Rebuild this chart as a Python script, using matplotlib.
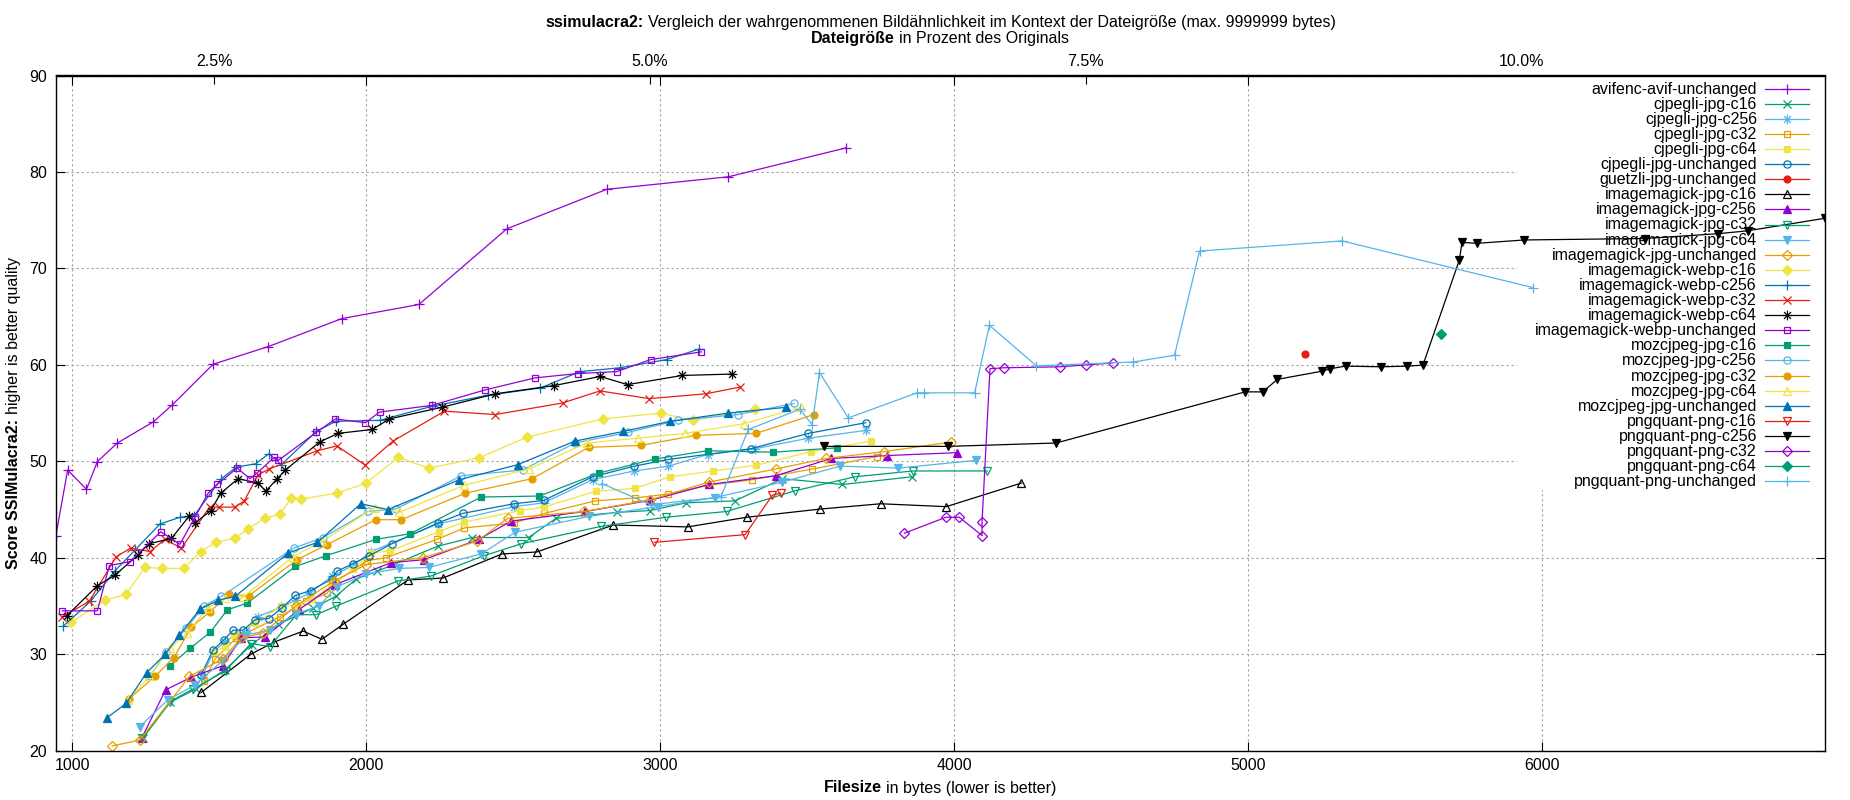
import matplotlib
matplotlib.use('Agg')
import matplotlib.pyplot as plt
from matplotlib.path import Path
from matplotlib.lines import Line2D
from matplotlib.patches import Rectangle
from matplotlib.transforms import IdentityTransform
from matplotlib.ticker import FixedLocator, FuncFormatter

plt.rcParams['font.family'] = ['Liberation Sans', 'DejaVu Sans']
FS = 11.5

# ---------------- data (filesize in bytes, score) ----------------
avif = [(944,42.3),(984,49.1),(1048,47.1),(1085,49.97),(1153,51.9),(1276,54.1),(1340,55.85),(1479,60.07),
        (1667,61.9),(1917,64.8),(2179,66.26),(2478,74.1),(2818,78.2),(3232,79.5),(3633,82.5)]
cjpegli_c16 = [(1240,21.3),(1332,25.0),(1420,26.4),(1520,28.4),(1610,31.0),(1700,33.1),(1820,34.8),(1896,36.0),
               (1966,37.8),(2037,38.6),(2243,41.2),(2360,42.1),(2552,42.1),(2646,44.1),(2852,44.7),(2965,44.9),
               (3089,45.7),(3254,45.9),(3416,48.2),(3620,47.6),(3858,48.4)]
cjpegli_c256 = [(1440,27.6),(1480,30.2),(1518,31.3),(1555,32.0),(1590,32.3),(1632,33.9),(1711,34.9),(1760,35.6),
                (1810,36.4),(1884,38.1),(1955,39.2),(2017,40.65),(2243,43.5),(2502,45.3),(2604,45.7),(2770,48.1),
                (2912,49.0),(3028,49.5),(3161,50.7),(3322,51.3),(3504,52.4),(3699,53.2)]
cjpegli_c32 = [(1448,27.2),(1485,29.5),(1558,31.7),(1706,33.9),(1796,35.5),(1866,36.3),(1896,37.5),(2002,39.7),
               (2066,40.0),(2240,41.9),(2334,43.1),(2502,43.6),(2606,44.6),(2779,45.9),(2915,46.2),(3025,46.6),
               (3161,47.5),(3314,48.1),(3518,49.2),(3738,50.5)]
cjpegli_c64 = [(1481,30.2),(1519,30.8),(1549,32.0),(1623,33.2),(1711,35.0),(1764,35.1),(1817,35.7),(1881,37.1),
               (1955,38.8),(2017,40.5),(2081,40.7),(2246,42.7),(2334,43.7),(2523,44.9),(2604,45.25),(2781,46.9),
               (2913,47.2),(3034,48.4),(3181,49.0),(3327,49.6),(3514,51.0),(3716,52.1)]
cjpegli_unch = [(1437,27.8),(1479,30.45),(1516,31.5),(1547,32.5),(1581,32.5),(1623,33.6),(1668,33.7),(1713,34.8),
                (1759,36.1),(1811,36.6),(1883,37.8),(1900,38.6),(1955,39.4),(2009,40.2),(2087,41.45),(2243,43.6),
                (2328,44.6),(2502,45.6),(2604,45.95),(2770,48.4),(2912,49.5),(3028,50.2),(3308,51.3),(3504,52.9),
                (3699,54.0)]
guetzli = [(5195,61.15)]
im_jpg_c16 = [(1439,26.05),(1607,30.0),(1686,31.25),(1785,32.4),(1849,31.55),(1921,33.1),(2142,37.7),(2261,37.9),
              (2462,40.4),(2580,40.6),(2841,43.4),(3093,43.2),(3294,44.2),(3544,45.05),(3750,45.6),(3973,45.3),
              (4229,47.75)]
im_jpg_c256 = [(1236,21.3),(1317,26.3),(1403,27.6),(1511,28.8),(1575,31.7),(1655,31.8),(1770,34.6),(1892,37.2),
               (2085,39.5),(2196,39.8),(2382,41.9),(2493,43.8),(2744,44.8),(2966,45.95),(3166,47.6),(3393,48.5),
               (3582,50.3),(3773,50.6),(4010,50.9)]
im_jpg_c32 = [(1236,21.3),(1332,25.1),(1411,26.4),(1522,28.3),(1607,31.1),(1672,30.8),(1762,34.1),(1830,34.1),
              (1898,35.0),(2108,37.6),(2219,38.1),(2399,40.2),(2527,41.45),(2798,43.25),(3019,44.2),(3226,44.8),
              (3459,46.95),(3663,48.4),(3860,49.0),(4113,49.0)]
im_jpg_c64 = [(1230,22.5),(1326,25.3),(1417,26.8),(1510,29.3),(1592,32.0),(1672,32.5),(1760,34.2),(1840,35.0),
              (1900,37.0),(2000,38.3),(2111,38.9),(2213,39.0),(2391,40.4),(2507,42.65),(2759,44.3),(2993,45.3),
              (3187,46.25),(3416,47.85),(3612,49.5),(3810,49.3),(4075,50.1)]
im_jpg_unch = [(1136,20.5),(1230,21.1),(1398,27.7),(1511,29.5),(1575,31.7),(1649,32.2),(1760,35.0),(1890,37.6),
               (2000,39.3),(2192,40.0),(2376,41.7),(2481,44.1),(2742,44.8),(2965,46.0),(3166,47.85),(3393,49.2),
               (3565,50.3),(3761,51.0),(3991,52.0)]
im_webp_c16 = [(995,33.3),(1111,35.6),(1182,36.2),(1247,39.0),(1304,38.9),(1381,38.9),(1436,40.65),(1490,41.6),
               (1553,42.05),(1598,43.0),(1655,44.1),(1706,44.5),(1745,46.2),(1779,46.1),(1901,46.7),(2000,47.75),
               (2108,50.4),(2213,49.3),(2383,50.35),(2546,52.5),(2804,54.4),(3002,55.0),(3110,54.25),(3323,55.4)]
im_webp_c256 = [(969,32.9),(1062,35.5),(1145,38.65),(1213,40.8),(1298,43.5),(1366,44.2),(1414,44.35),(1507,48.2),
                (1558,49.4),(1624,49.75),(1669,50.8),(1711,49.65),(1830,53.1),(1896,54.15),(2045,54.25),(2223,55.7),
                (2413,56.85),(2592,57.6),(2727,59.3),(2863,59.7),(3022,60.55),(3133,61.65)]
im_webp_c32 = [(964,33.85),(1058,35.5),(1149,40.1),(1198,41.0),(1264,40.65),(1315,41.9),(1371,41.0),(1468,45.3),
               (1498,45.25),(1552,45.25),(1584,45.85),(1632,48.6),(1669,49.2),(1834,51.1),(1900,51.6),(1997,49.6),
               (2091,52.1),(2266,55.2),(2439,54.85),(2668,56.05),(2795,57.3),(2963,56.5),(3155,57.0),(3272,57.7)]
im_webp_c64 = [(981,33.98),(1085,37.1),(1145,38.2),(1224,40.3),(1260,41.45),(1337,42.0),(1397,44.3),(1417,43.6),
               (1471,44.9),(1505,46.7),(1564,48.2),(1632,47.75),(1658,46.9),(1697,48.2),(1725,49.1),(1841,52.0),
               (1904,52.9),(2020,53.3),(2079,54.4),(2257,55.6),(2439,57.0),(2638,57.85),(2796,58.8),(2889,57.95),
               (3074,58.9),(3246,59.05)]
im_webp_unch = [(966,34.5),(1085,34.5),(1126,39.2),(1196,39.6),(1301,42.7),(1366,41.4),(1417,44.2),(1462,46.7),
                (1492,47.6),(1561,49.3),(1604,48.2),(1629,48.8),(1686,50.4),(1701,50.1),(1830,53.0),(1895,54.4),
                (1997,54.0),(2045,55.1),(2223,55.8),(2404,57.4),(2574,58.65),(2719,59.1),(2852,59.3),(2968,60.55),
                (3140,61.35)]
moz_c16 = [(1332,28.8),(1400,30.6),(1470,32.3),(1527,34.6),(1595,35.3),(1759,39.1),(1862,40.2),(2032,41.9),
           (2150,42.5),(2391,46.3),(2589,46.4),(2793,48.8),(2983,50.25),(3161,51.1),(3385,50.95),(3603,51.4)]
moz_c256 = [(1264,27.7),(1318,30.2),(1388,32.7),(1448,35.0),(1507,36.0),(1753,41.0),(1853,42.1),(2006,44.8),
            (2100,45.05),(2323,48.5),(2532,49.1),(2710,51.9),(2892,53.0),(3059,54.25),(3265,54.85),(3455,56.0)]
moz_c32 = [(1194,25.4),(1281,27.7),(1345,29.65),(1405,32.8),(1468,34.4),(1533,36.2),(1600,36.05),(1764,39.8),
           (1866,41.35),(2032,43.95),(2119,43.95),(2337,46.7),(2564,48.2),(2757,51.45),(2934,51.65),(3123,52.7),
           (3327,52.9),(3523,54.85)]
moz_c64 = [(1190,25.3),(1262,27.7),(1332,30.6),(1390,32.2),(1460,34.8),(1520,35.8),(1580,35.9),(1750,40.1),
           (1850,41.7),(2028,45.2),(2111,44.7),(2331,47.5),(2553,49.2),(2751,51.9),(2923,52.4),(3085,52.9),
           (3285,53.9),(3478,55.6)]
moz_unch = [(1117,23.4),(1183,24.9),(1253,28.1),(1316,30.0),(1364,32.0),(1434,34.65),(1496,35.6),(1554,36.0),
            (1735,40.5),(1834,41.6),(1981,45.6),(2074,45.0),(2317,48.1),(2515,49.65),(2710,52.1),(2875,53.1),
            (3034,54.15),(3231,55.0),(3429,55.6)]
png_c16 = [(2980,41.6),(3289,42.4),(3382,46.5),(3410,46.7)]
png_c256 = [(3557,51.55),(3980,51.55),(4347,51.9),(4990,57.2),(5050,57.2),(5100,58.5),(5253,59.35),(5280,59.6),
            (5332,59.87),(5453,59.8),(5541,59.87),(5595,59.97),(5719,70.87),(5728,72.7),(5779,72.6),(5940,72.95),
            (6350,73.1),(6600,73.6),(6700,73.9),(6963,75.2)]
png_c32 = [(3831,42.55),(3972,44.2),(4018,44.2),(4095,42.3),(4095,43.7),(4122,59.6),(4170,59.7),(4360,59.8),
           (4450,60.0),(4540,60.2)]
png_c64 = [(5657,63.2)]
png_unch = [(2801,47.7),(2968,45.5),(3206,46.3),(3300,53.3),(3475,55.4),(3517,53.8),(3542,59.2),(3640,54.5),
            (3874,57.1),(3897,57.1),(4070,57.1),(4120,64.1),(4280,59.9),(4610,60.3),(4750,61.0),(4835,71.8),
            (5320,72.85),(5971,68.0)]

series_names = ["avifenc-avif-unchanged", "cjpegli-jpg-c16", "cjpegli-jpg-c256", "cjpegli-jpg-c32",
                "cjpegli-jpg-c64", "cjpegli-jpg-unchanged", "guetzli-jpg-unchanged", "imagemagick-jpg-c16",
                "imagemagick-jpg-c256", "imagemagick-jpg-c32", "imagemagick-jpg-c64", "imagemagick-jpg-unchanged",
                "imagemagick-webp-c16", "imagemagick-webp-c256", "imagemagick-webp-c32", "imagemagick-webp-c64",
                "imagemagick-webp-unchanged", "mozcjpeg-jpg-c16", "mozcjpeg-jpg-c256", "mozcjpeg-jpg-c32",
                "mozcjpeg-jpg-c64", "mozcjpeg-jpg-unchanged", "pngquant-png-c16", "pngquant-png-c256",
                "pngquant-png-c32", "pngquant-png-c64", "pngquant-png-unchanged"]
series_data = [avif, cjpegli_c16, cjpegli_c256, cjpegli_c32, cjpegli_c64, cjpegli_unch, guetzli,
               im_jpg_c16, im_jpg_c256, im_jpg_c32, im_jpg_c64, im_jpg_unch,
               im_webp_c16, im_webp_c256, im_webp_c32, im_webp_c64, im_webp_unch,
               moz_c16, moz_c256, moz_c32, moz_c64, moz_unch,
               png_c16, png_c256, png_c32, png_c64, png_unch]
ORIGINAL_SIZE = 59300  # bytes, for the percent axis

# ---------------- styles ----------------
palette = ['#9400d3', '#009e73', '#56b4e9', '#e69f00', '#f0e442', '#0072b2', '#e51e10', '#000000']
star = Path([(-1, 0), (1, 0), (0, -1), (0, 1), (-0.72, -0.72), (0.72, 0.72), (-0.72, 0.72), (0.72, -0.72)],
            [Path.MOVETO, Path.LINETO] * 4)
# gnuplot point types 1..13: (marker, filled, size)
ptypes = [('+', False, 7.5), ('x', False, 5.5), (star, False, 7.0), ('s', False, 5.0), ('s', True, 5.0),
          ('o', False, 5.2), ('o', True, 5.0), ('^', False, 6.0), ('^', True, 6.0), ('v', False, 6.0),
          ('v', True, 6.0), ('D', False, 4.6), ('D', True, 4.6)]

W, H = 1850, 800
fig = plt.figure(figsize=(W / 100, H / 100), dpi=100)
L, R, T, B = 55.6, 1825.0, 75.5, 750.7
ax = fig.add_axes([L / W, 1 - B / H, (R - L) / W, (B - T) / H])

ax.set_axisbelow(True)
ax.grid(True, color='#a0a0a0', linestyle=(0, (2.0, 2.5)), linewidth=0.8)
# opaque key area (grid hidden behind it, data drawn over it)
ax.add_patch(Rectangle((0.8257, 0.386), 1 - 0.8257, 1 - 0.386, transform=ax.transAxes,
                       facecolor='white', edgecolor='none', zorder=1))

styles = []
for i, (name, data) in enumerate(zip(series_names, series_data)):
    color = palette[i % 8]
    m, filled, ms = ptypes[i % 13]
    styles.append((color, m, filled, ms))
    xs = [p[0] for p in data]
    ys = [p[1] for p in data]
    ax.plot(xs, ys, color=color, lw=0.9, marker=m, ms=ms,
            mfc=color if filled else 'none', mec=color, mew=0.9, zorder=2)

ax.set_xlim(943, 6963)
ax.set_ylim(20, 90)
ax.set_xticks([1000, 2000, 3000, 4000, 5000, 6000])
ax.set_yticks([20, 30, 40, 50, 60, 70, 80, 90])
ax.tick_params(axis='both', direction='in', length=6.5, width=0.8, labelsize=FS, top=True, right=True)
ax.tick_params(axis='x', pad=5)
ax.tick_params(axis='y', pad=6)
for sp in ax.spines.values():
    sp.set_linewidth(1.0)

sec = ax.secondary_xaxis('top', functions=(lambda b: b / ORIGINAL_SIZE * 100.0,
                                           lambda p: p * ORIGINAL_SIZE / 100.0))
sec.xaxis.set_major_locator(FixedLocator([2.5, 5.0, 7.5, 10.0]))
sec.xaxis.set_major_formatter(FuncFormatter(lambda v, pos: f"{v:.1f}%"))
sec.tick_params(direction='in', length=6.5, width=0.8, labelsize=FS, pad=5)
sec.spines['top'].set_linewidth(1.0)

# ---------------- key (legend) ----------------
ident = IdentityTransform()
row0, drow = 88.6, 15.1
for i, name in enumerate(series_names):
    color, m, filled, ms = styles[i]
    yc = H - (row0 + drow * i)
    fig.text(1757, yc - 5.0, name, transform=ident, ha='right', va='baseline', fontsize=FS, zorder=5)
    fig.add_artist(Line2D([1765, 1787, 1809], [yc, yc, yc], transform=ident, color=color, lw=0.9,
                          marker=m, ms=ms, markevery=[1], mfc=color if filled else 'none', mec=color, mew=0.9,
                          zorder=5))

# ---------------- mixed bold / normal labels ----------------
fig.canvas.draw()
renderer = fig.canvas.get_renderer()


def text_width(s, weight):
    t = fig.text(0, 0, s, fontsize=FS, fontweight=weight, transform=ident)
    w = t.get_window_extent(renderer).width
    t.remove()
    return w


GAP = 4.4


def mixed(cx, base, parts, vertical=False):
    widths = [text_width(s, w) for s, w in parts]
    total = sum(widths) + GAP * (len(parts) - 1)
    pos = -total / 2.0
    for (s, w), wd in zip(parts, widths):
        if vertical:
            fig.text(base, cx + pos, s, fontsize=FS, fontweight=w, transform=ident,
                     rotation=90, rotation_mode='anchor', ha='left', va='baseline')
        else:
            fig.text(cx + pos, base, s, fontsize=FS, fontweight=w, transform=ident,
                     ha='left', va='baseline')
        pos += wd + GAP


xc = (L + R) / 2.0
mixed(xc, H - 27.0, [("ssimulacra2:", 'bold'),
                     ("Vergleich der wahrgenommenen Bildähnlichkeit im Kontext der Dateigröße (max. 9999999 bytes)",
                      'normal')])
mixed(xc, H - 42.5, [("Dateigröße", 'bold'), ("in Prozent des Originals", 'normal')])
mixed(xc, H - 792.5, [("Filesize", 'bold'), ("in bytes (lower is better)", 'normal')])
mixed(H - (T + B) / 2.0, 18.0, [("Score SSIMulacra2:", 'bold'), ("higher is better quality", 'normal')],
      vertical=True)

fig.savefig('out.png', dpi=100)
